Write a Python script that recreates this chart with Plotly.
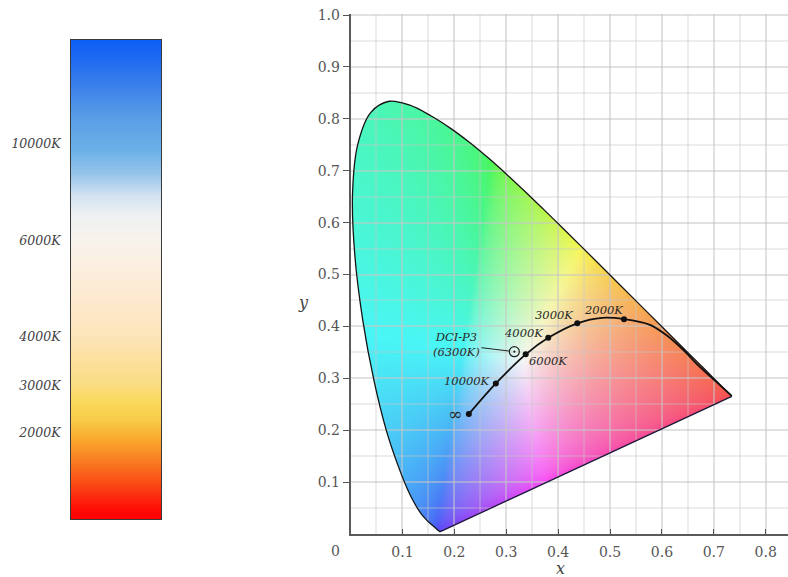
import base64
import struct
import zlib

import numpy as np
import plotly.graph_objects as go

# CIE 1931 2-degree spectral locus (chromaticity x, y) by wavelength in nm
wavelengths = [380, 390, 400, 410, 420, 425, 430, 435, 440, 445, 450, 455, 460, 465,
               470, 475, 480, 485, 490, 495, 500, 505, 510, 515, 520, 525, 530, 535,
               540, 545, 550, 555, 560, 565, 570, 575, 580, 585, 590, 595, 600, 605,
               610, 615, 620, 625, 630, 635, 640, 645, 650, 660, 670, 680, 690, 700]
locus_x = [0.1741, 0.1738, 0.1733, 0.1726, 0.1714, 0.1703, 0.1689, 0.1669, 0.1644,
           0.1611, 0.1566, 0.1510, 0.1440, 0.1355, 0.1241, 0.1096, 0.0913, 0.0687,
           0.0454, 0.0235, 0.0082, 0.0039, 0.0139, 0.0389, 0.0743, 0.1142, 0.1547,
           0.1929, 0.2296, 0.2658, 0.3016, 0.3373, 0.3731, 0.4087, 0.4441, 0.4788,
           0.5125, 0.5448, 0.5752, 0.6029, 0.6270, 0.6482, 0.6658, 0.6801, 0.6915,
           0.7006, 0.7079, 0.7140, 0.7190, 0.7230, 0.7260, 0.7300, 0.7320, 0.7334,
           0.7344, 0.7347]
locus_y = [0.0050, 0.0049, 0.0048, 0.0048, 0.0051, 0.0058, 0.0069, 0.0086, 0.0109,
           0.0138, 0.0177, 0.0227, 0.0297, 0.0399, 0.0578, 0.0868, 0.1327, 0.2007,
           0.2950, 0.4127, 0.5384, 0.6548, 0.7502, 0.8120, 0.8338, 0.8262, 0.8059,
           0.7816, 0.7543, 0.7243, 0.6923, 0.6589, 0.6245, 0.5896, 0.5547, 0.5202,
           0.4866, 0.4544, 0.4242, 0.3965, 0.3725, 0.3514, 0.3340, 0.3197, 0.3083,
           0.2993, 0.2920, 0.2859, 0.2809, 0.2770, 0.2740, 0.2700, 0.2680, 0.2666,
           0.2656, 0.2653]

# Planckian locus, from infinite temperature down to the red end
planck_x = [0.228, 0.280, 0.3376, 0.381, 0.437, 0.485, 0.527, 0.577, 0.609, 0.641,
            0.673, 0.706, 0.7345]
planck_y = [0.231, 0.290, 0.3462, 0.378, 0.406, 0.4165, 0.414, 0.403, 0.383, 0.355,
            0.322, 0.292, 0.266]

# Marked colour temperatures on the locus
temp_labels = ["∞", "10000K", "6000K", "4000K", "3000K", "2000K"]
temp_x = [0.228, 0.280, 0.3376, 0.381, 0.437, 0.527]
temp_y = [0.231, 0.290, 0.3462, 0.378, 0.406, 0.414]

# DCI-P3 white point
dci_label = "DCI-P3<br>(6300K)"
dci_x = [0.3157]
dci_y = [0.3513]

# Colour-temperature bar: labels and their height (0 = bottom, 1 = top)
bar_labels = ["10000K", "6000K", "4000K", "3000K", "2000K"]
bar_label_pos = [0.783, 0.582, 0.380, 0.278, 0.180]
bar_stop_pos = [0.0, 0.019, 0.061, 0.113, 0.165, 0.207, 0.248, 0.278, 0.332, 0.380,
                0.457, 0.520, 0.582, 0.635, 0.676, 0.718, 0.770, 0.833, 0.896, 0.958,
                1.0]
bar_stop_colors = ["#ff0000", "#ff0a05", "#fb3a12", "#f87420", "#f9a72c", "#f9cb48",
                   "#fad95e", "#fbdd80", "#fce09e", "#fde4b8", "#fce9cf", "#fbeedd",
                   "#f7f3ed", "#eef0f2", "#d2e2f0", "#98c5ea", "#6cb0e8", "#5b9fe6",
                   "#3f84ea", "#1f6af0", "#0c5ff5"]

W, H = 788, 577
X0_PX, X_END_PX = 350.5, 788.0
Y0_PX, Y1_PX = 534.0, 15.0
PX_PER_UNIT = (Y0_PX - Y1_PX) / 1.0
X_MAX = (X_END_PX - X0_PX) / PX_PER_UNIT
Y_MAX = 1.002

SERIF = "DejaVu Serif"


def png_data_uri(rgba):
    h, w, _ = rgba.shape
    raw = b"".join(b"\x00" + rgba[i].tobytes() for i in range(h))

    def chunk(tag, data):
        body = tag + data
        return struct.pack(">I", len(data)) + body + struct.pack(">I", zlib.crc32(body) & 0xFFFFFFFF)

    png = (b"\x89PNG\r\n\x1a\n"
           + chunk(b"IHDR", struct.pack(">IIBBBBB", w, h, 8, 6, 0, 0, 0))
           + chunk(b"IDAT", zlib.compress(raw, 9))
           + chunk(b"IEND", b""))
    return "data:image/png;base64," + base64.b64encode(png).decode()


def smooth_outline(xs, ys, steps=10):
    """Catmull-Rom path through the locus points, used to clip the raster fill
    to the same smooth edge as the drawn spline outline."""
    p = np.column_stack([xs, ys])
    p = np.vstack([p[0], p, p[-1]])
    out = []
    t = np.linspace(0, 1, steps, endpoint=False)[:, None]
    for i in range(1, len(p) - 2):
        p0, p1, p2, p3 = p[i - 1], p[i], p[i + 1], p[i + 2]
        seg = 0.5 * ((2 * p1) + (-p0 + p2) * t + (2 * p0 - 5 * p1 + 4 * p2 - p3) * t ** 2
                     + (-p0 + 3 * p1 - 3 * p2 + p3) * t ** 3)
        out.append(seg)
    out.append(p[-2][None, :])
    out = np.vstack(out)
    return out[:, 0], out[:, 1]


def inside_polygon(px, py, vx, vy):
    res = np.zeros(px.shape, dtype=bool)
    n = len(vx)
    j = n - 1
    with np.errstate(divide="ignore", invalid="ignore"):
        for i in range(n):
            xi, yi, xj, yj = vx[i], vy[i], vx[j], vy[j]
            crosses = (yi > py) != (yj > py)
            xint = (xj - xi) * (py - yi) / (yj - yi) + xi
            res ^= crosses & (px < xint)
            j = i
    return res


def box_blur(a, r, axis):
    pad = [(0, 0)] * a.ndim
    pad[axis] = (r + 1, r)
    c = np.cumsum(np.pad(a, pad, mode="edge"), axis=axis)
    hi = np.take(c, np.arange(2 * r + 1, c.shape[axis]), axis=axis)
    lo = np.take(c, np.arange(0, c.shape[axis] - 2 * r - 1), axis=axis)
    return (hi - lo) / (2 * r + 1)


def soften(a, r, passes=3):
    for _ in range(passes):
        a = box_blur(box_blur(a, r, 1), r, 2)
    return a


# Gamut fill: chromaticity -> CIE RGB (equal-energy white); out-of-gamut colours
# desaturated by adding white, then lightened and smoothed
IMG_XMAX, IMG_YMAX = 0.75, 0.85
nx, ny = 520, 590
gx = (np.arange(nx) + 0.5) * IMG_XMAX / nx
gy = IMG_YMAX - (np.arange(ny) + 0.5) * IMG_YMAX / ny
GX, GY = np.meshgrid(gx, gy)
GZ = np.clip(1.0 - GX - GY, 0, None)
M = np.array([[2.3646, -0.8965, -0.4681],
              [-0.5152, 1.4264, 0.0888],
              [0.0052, -0.0144, 1.0092]])
lin = np.einsum("ij,jhw->ihw", M, np.stack([GX, GY, GZ]))
lin = lin - np.minimum(lin.min(axis=0), 0.0)
lin = lin / np.maximum(lin.max(axis=0), 1e-9)
col = np.clip(lin, 0, 1) ** (1 / 1.8)
col = soften(col, 2)
col = (0.30 + 0.70 * col) * 0.965
ox, oy = smooth_outline(locus_x, locus_y)
mask = inside_polygon(GX, GY, ox, oy)
rgba = np.zeros((ny, nx, 4), dtype=np.uint8)
rgba[..., :3] = np.round(np.clip(np.moveaxis(col, 0, -1), 0, 1) * 255).astype(np.uint8)
rgba[..., 3] = np.where(mask, 255, 0).astype(np.uint8)
gamut_uri = png_data_uri(rgba)

fig = go.Figure()

# Colour-temperature bar
n_bar = 300
bar_y = np.linspace(0, 1, n_bar)
fig.add_trace(go.Heatmap(
    x=[0.5], y=bar_y, z=[[v] for v in bar_y],
    colorscale=[[p, c] for p, c in zip(bar_stop_pos, bar_stop_colors)],
    zmin=0, zmax=1, showscale=False, hoverinfo="skip",
    xaxis="x2", yaxis="y2",
))

# Spectral locus (smooth) and the straight line of purples
fig.add_trace(go.Scatter(
    x=locus_x, y=locus_y, mode="lines",
    line=dict(color="#141414", width=1.3, shape="spline", smoothing=1.0),
    hoverinfo="skip", showlegend=False,
))
fig.add_trace(go.Scatter(
    x=[locus_x[-1], locus_x[0]], y=[locus_y[-1], locus_y[0]], mode="lines",
    line=dict(color="#1a1838", width=1.3), hoverinfo="skip", showlegend=False,
))

# Planckian locus
fig.add_trace(go.Scatter(
    x=planck_x, y=planck_y, mode="lines",
    line=dict(color="#111111", width=1.8, shape="spline", smoothing=0.8),
    hoverinfo="skip", showlegend=False,
))
fig.add_trace(go.Scatter(
    x=temp_x, y=temp_y, mode="markers",
    marker=dict(color="#111111", size=6), hoverinfo="skip", showlegend=False,
))
fig.add_trace(go.Scatter(
    x=dci_x, y=dci_y, mode="markers",
    marker=dict(symbol="circle-open-dot", color="#222222", size=10, line=dict(width=1.2)),
    hoverinfo="skip", showlegend=False,
))

label_font = dict(family=SERIF, size=11.5, color="#2a2a2a", style="italic")
label_place = {
    "∞": dict(xanchor="right", xshift=-5, yshift=0, size=17),
    "10000K": dict(xanchor="right", xshift=-3, yshift=2),
    "6000K": dict(xanchor="left", xshift=1, yshift=-7),
    "4000K": dict(xanchor="right", xshift=-2, yshift=5),
    "3000K": dict(xanchor="right", xshift=-1, yshift=8),
    "2000K": dict(xanchor="right", xshift=2, yshift=9),
}
annotations = []
for lab, tx, ty in zip(temp_labels, temp_x, temp_y):
    p = label_place[lab]
    f = dict(label_font)
    if "size" in p:
        f["size"] = p["size"]
        f["style"] = "normal"
    annotations.append(dict(
        x=tx, y=ty, xref="x", yref="y", text=lab, showarrow=False,
        xanchor=p["xanchor"], yanchor="middle", xshift=p["xshift"], yshift=p["yshift"],
        font=f,
    ))

annotations.append(dict(
    x=dci_x[0], y=dci_y[0], xref="x", yref="y", text=dci_label,
    showarrow=True, arrowhead=0, arrowwidth=1, arrowcolor="#222222",
    ax=-58, ay=-7, standoff=5, font=label_font, align="center",
))

axis_font = dict(family=SERIF, size=14, color="#555555")
annotations += [
    dict(x=335 / W, y=(H - 551) / H, xref="paper", yref="paper", text="0",
         xanchor="center", yanchor="middle", showarrow=False, font=axis_font),
    dict(x=560 / W, y=(H - 568) / H, xref="paper", yref="paper", text="x",
         xanchor="center", yanchor="middle", showarrow=False,
         font=dict(family=SERIF, size=16, color="#444444", style="italic")),
    dict(x=303 / W, y=(H - 302) / H, xref="paper", yref="paper", text="y",
         xanchor="center", yanchor="middle", showarrow=False,
         font=dict(family=SERIF, size=16, color="#444444", style="italic")),
]

# light translucent grid: grey on white, faintly lighter over the coloured fill
grid_col = "rgba(200,200,200,0.32)"
grid = dict(showgrid=True, gridcolor=grid_col, gridwidth=1.8)
minor_grid = dict(dtick=0.05, showgrid=True, gridcolor=grid_col, gridwidth=1.8)

fig.update_layout(
    width=W, height=H,
    margin=dict(l=0, r=0, t=0, b=0, autoexpand=False),
    paper_bgcolor="white", plot_bgcolor="white",
    showlegend=False,
    annotations=annotations,
    images=[dict(
        source=gamut_uri, xref="x", yref="y", x=0, y=IMG_YMAX,
        sizex=IMG_XMAX, sizey=IMG_YMAX, xanchor="left", yanchor="top",
        sizing="stretch", layer="below",
    )],
    xaxis=dict(
        domain=[X0_PX / W, 1.0], range=[0, X_MAX], automargin=False,
        tickvals=[0.1, 0.2, 0.3, 0.4, 0.5, 0.6, 0.7, 0.8],
        ticktext=["0.1", "0.2", "0.3", "0.4", "0.5", "0.6", "0.7", "0.8"],
        ticks="inside", ticklen=5, tickwidth=1.3, tickcolor="#555555",
        showline=True, linecolor="#5a5a5a", linewidth=1.5,
        zeroline=False, tickfont=axis_font, ticklabelstandoff=4,
        minor=minor_grid, **grid,
    ),
    yaxis=dict(
        domain=[(H - Y0_PX) / H, (H - (Y0_PX - Y_MAX * PX_PER_UNIT)) / H],
        range=[0, Y_MAX], automargin=False,
        tickvals=[0.1, 0.2, 0.3, 0.4, 0.5, 0.6, 0.7, 0.8, 0.9, 1.0],
        ticktext=["0.1", "0.2", "0.3", "0.4", "0.5", "0.6", "0.7", "0.8", "0.9", "1.0"],
        ticks="outside", ticklen=6, tickwidth=1.3, tickcolor="#555555",
        showline=True, linecolor="#5a5a5a", linewidth=1.5,
        zeroline=False, tickfont=axis_font,
        minor=minor_grid, **grid,
    ),
    xaxis2=dict(
        domain=[71 / W, 161 / W], range=[0, 1], anchor="y2", automargin=False,
        showticklabels=False, ticks="", showgrid=False, zeroline=False,
        showline=True, mirror=True, linecolor="#3a3a3a", linewidth=1,
    ),
    yaxis2=dict(
        domain=[(H - 519) / H, (H - 40) / H], range=[0, 1], anchor="x2", automargin=False,
        tickvals=bar_label_pos, ticktext=bar_labels, ticks="",
        tickfont=dict(family=SERIF, size=12.5, color="#444444", style="italic"),
        ticklabelstandoff=7, showgrid=False, zeroline=False,
        showline=True, mirror=True, linecolor="#3a3a3a", linewidth=1,
    ),
)

fig.write_html("out.html")
